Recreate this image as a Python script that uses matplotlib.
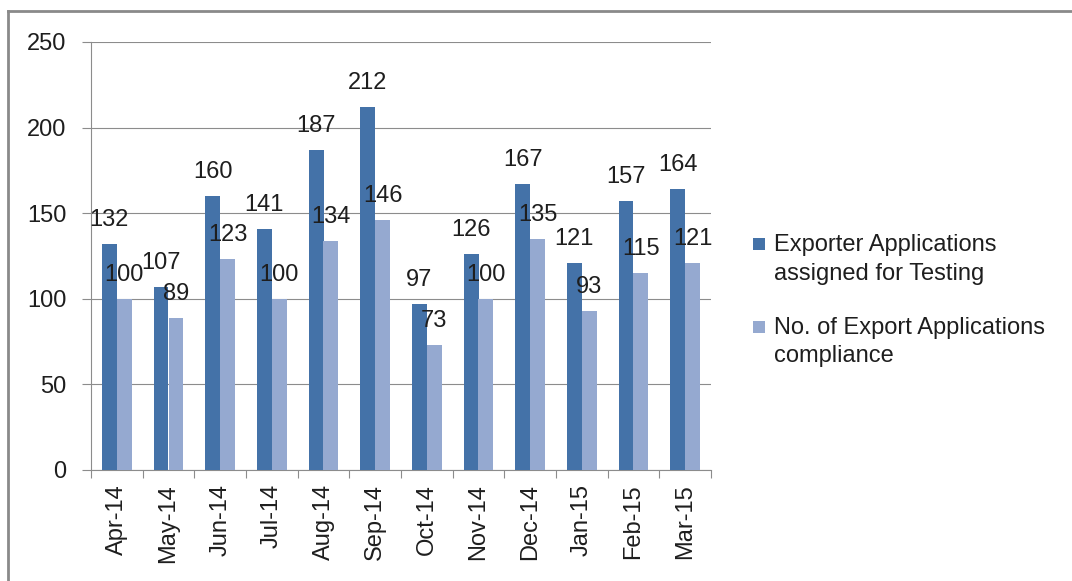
import matplotlib
matplotlib.use("Agg")
import matplotlib.pyplot as plt
import numpy as np
from matplotlib.patches import Rectangle
from matplotlib.lines import Line2D
from matplotlib.legend_handler import HandlerPatch

months = ["Apr-14", "May-14", "Jun-14", "Jul-14", "Aug-14", "Sep-14",
          "Oct-14", "Nov-14", "Dec-14", "Jan-15", "Feb-15", "Mar-15"]
assigned = [132, 107, 160, 141, 187, 212, 97, 126, 167, 121, 157, 164]
compliance = [100, 89, 123, 100, 134, 146, 73, 100, 135, 93, 115, 121]
series_names = ["Exporter Applications\nassigned for Testing",
                "No. of Export Applications\ncompliance"]
yticks = [0, 50, 100, 150, 200, 250]

c_dark = "#4472A8"
c_light = "#95A9D0"
grid_c = "#8C8C8C"
txt_c = "#1E1E1E"

plt.rcParams['font.family'] = ['Liberation Sans', 'DejaVu Sans']
FS = 17

fig = plt.figure(figsize=(10.72, 5.81), dpi=100)
ax = fig.add_axes([91/1072, 1-470/581, (711-91)/1072, (470-42)/581])

x = np.arange(len(months))
w = 0.29
b1 = ax.bar(x - w/2, assigned, width=w, color=c_dark, label=series_names[0], zorder=3)
b2 = ax.bar(x + w/2, compliance, width=w, color=c_light, label=series_names[1], zorder=3)

for bars, vals in ((b1, assigned), (b2, compliance)):
    for r, v in zip(bars, vals):
        ax.annotate(str(v), (r.get_x() + r.get_width()/2, v), xytext=(0, 13),
                    textcoords="offset points", ha="center", va="baseline",
                    fontsize=FS, color=txt_c, zorder=5)

ax.set_xlim(-0.5, len(months) - 0.5)
ax.set_ylim(0, 250)
ax.set_yticks(yticks)
ax.set_yticklabels([str(t) for t in yticks], fontsize=FS, color=txt_c)
ax.yaxis.grid(True, color=grid_c, linewidth=0.8, zorder=0)
ax.set_axisbelow(True)

ax.set_xticks(x)
ax.set_xticklabels(months, rotation=90, fontsize=FS, color=txt_c)
ax.set_xticks(np.arange(-0.5, len(months), 1.0), minor=True)
ax.tick_params(axis='x', which='major', length=0, pad=10)
ax.tick_params(axis='x', which='minor', length=6, color=grid_c, width=0.8, direction='out')
ax.tick_params(axis='y', length=6.5, color=grid_c, width=0.8, pad=11, direction='out')

for s in ("top", "right"):
    ax.spines[s].set_visible(False)
for s in ("left", "bottom"):
    ax.spines[s].set_color(grid_c)
    ax.spines[s].set_linewidth(0.8)


def make_square(legend, orig_handle, xdescent, ydescent, width, height, fontsize):
    s = 8.5
    return Rectangle((-xdescent + width - s, -ydescent + height/2 - s/2 + 11), s, s)


leg = fig.legend(handles=[b1.patches[0], b2.patches[0]], labels=series_names, loc="upper left",
                 bbox_to_anchor=(748/1072, 1 - 234/581), frameon=False,
                 fontsize=FS, handlelength=0.7, handleheight=0.7, handletextpad=0.42,
                 labelspacing=1.35, borderaxespad=0, borderpad=0,
                 handler_map={Rectangle: HandlerPatch(patch_func=make_square)})
for t in leg.get_texts():
    t.set_color(txt_c)
    t.set_linespacing(1.4)

fig.add_artist(Line2D([8/1072, 8/1072], [0, 1 - 11/581], transform=fig.transFigure,
                      color="#8A8A8A", linewidth=2))
fig.add_artist(Line2D([8/1072, 1], [1 - 11/581, 1 - 11/581], transform=fig.transFigure,
                      color="#8A8A8A", linewidth=2))

fig.savefig("out.png", dpi=100)
